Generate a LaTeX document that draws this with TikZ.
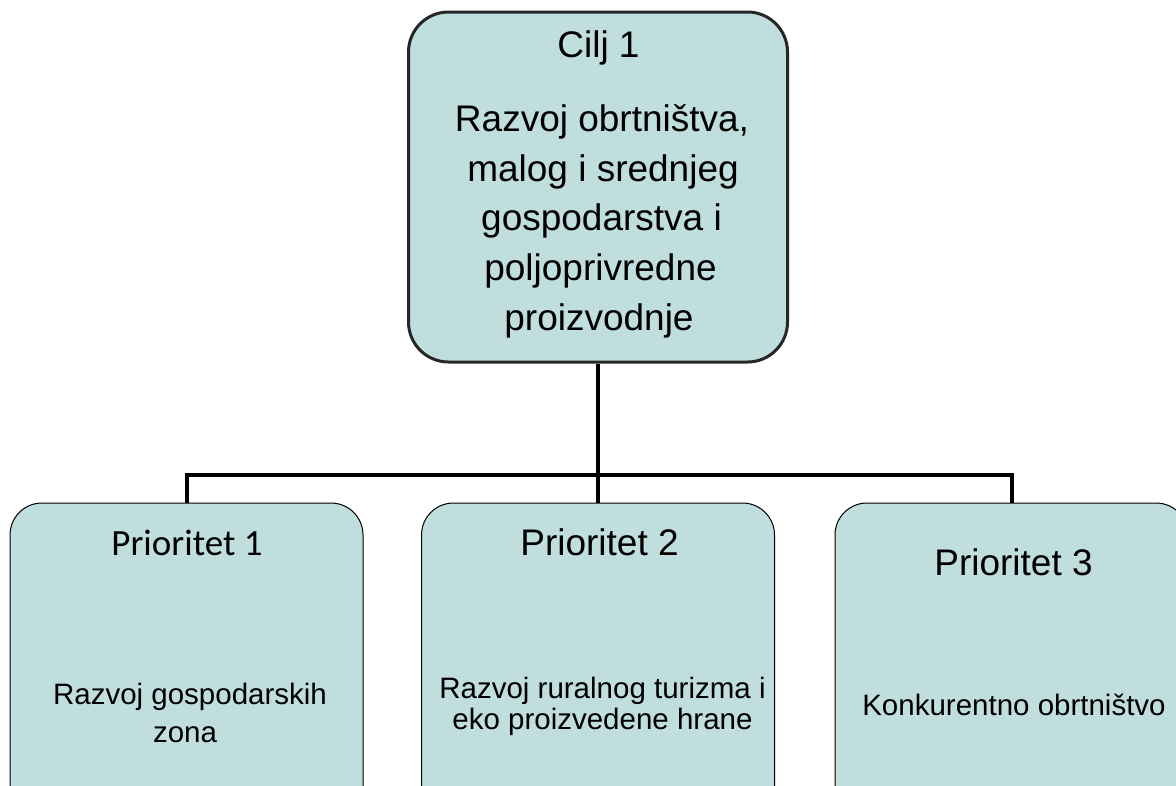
\documentclass[tikz,border=0pt]{standalone}
\usepackage{fontspec}
\setmainfont{Liberation Sans}
\newfontfamily\calibrifont{Carlito}
\definecolor{boxfill}{HTML}{BFDEDD}
\definecolor{boxline}{HTML}{262626}
\tikzset{
  topbox/.style={draw=boxline, line width=3pt, fill=boxfill, rounded corners=40pt, inner sep=0pt},
  prbox/.style={draw=black, line width=1pt, fill=boxfill, rounded corners=32pt, inner sep=0pt,
                minimum width=353pt, minimum height=317pt},
  conn/.style={draw=black, line width=4pt, line join=miter},
  head/.style={anchor=base, inner sep=0pt, font=\fontsize{37}{44}\selectfont},
  body/.style={anchor=base, inner sep=0pt, font=\fontsize{29.5}{35}\selectfont},
}
\begin{document}
\begin{tikzpicture}[x=1pt, y=-1pt]
\useasboundingbox (0,0) rectangle (1176,785);
\clip (0,0) rectangle (1176,785);
\fill[white] (0,0) rectangle (1176,785);

% boxes
\node[topbox, minimum width=379pt, minimum height=350pt] (cilj) at (598,187) {};
\node[prbox] (p1) at (186.5,661.5) {};
\node[prbox] (p2) at (598,661.5) {};
\node[prbox] (p3) at (1011.5,661.5) {};

% connectors
\coordinate (bar) at (598,475);
\draw[conn] (cilj.south) -- (p2.north);
\draw[conn] (p1.north) -- (p1.north |- bar) -- (p3.north |- bar) -- (p3.north);

% top box text
\node[head] (t0) at (598.5,57) {Cilj 1};
\node[head] (t1) at (602,131) {Razvoj obrtništva,};
\node[head] (t2) at (603,181) {malog i srednjeg};
\node[head] (t3) at (601.5,230) {gospodarstva i};
\node[head] (t4) at (600.5,280) {poljoprivredne};
\node[head] (t5) at (599,330) {proizvodnje};

% priority 1
\node[head, font=\calibrifont\fontsize{37}{44}\selectfont] (a0) at (187,555) {Prioritet 1};
\node[body] (a1) at (190,704) {Razvoj gospodarskih};
\node[body] (a2) at (185,742) {zona};

% priority 2
\node[head] (b0) at (599.5,555) {Prioritet 2};
\node[body] (b1) at (602.5,698) {Razvoj ruralnog turizma i};
\node[body] (b2) at (602.5,729) {eko proizvedene hrane};

% priority 3
\node[head] (c0) at (1013.5,575) {Prioritet 3};
\node[body] (c1) at (1014,715) {Konkurentno obrtništvo};
\end{tikzpicture}
\end{document}
